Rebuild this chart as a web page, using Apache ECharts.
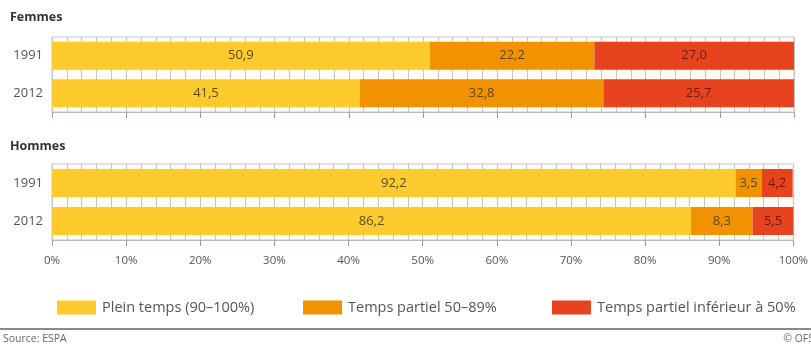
<!DOCTYPE html>
<html>
<head>
<meta charset="utf-8">
<script src="https://cdn.jsdelivr.net/npm/echarts@6/dist/echarts.min.js"></script>
<style>
html,body{margin:0;padding:0;background:#fff;}
#chart{width:811px;height:348px;}
</style>
</head>
<body>
<div id="chart"></div>
<script>
// Data
const years = ['1991', '2012'];
const seriesNames = ['Plein temps (90–100%)', 'Temps partiel 50–89%', 'Temps partiel inférieur à 50%'];
const femmesPlein = [50.9, 41.5];
const femmesPartiel = [22.2, 32.8];
const femmesInf = [27.0, 25.7];
const hommesPlein = [92.2, 86.2];
const hommesPartiel = [3.5, 8.3];
const hommesInf = [4.2, 5.5];
const panelTitles = ['Femmes', 'Hommes'];
const sourceText = 'Source: ESPA';
const copyrightText = '© OFS';

const colors = ['#FDCB2E', '#F39200', '#E7431E'];
const fmt = v => v.toFixed(1).replace('.', ',');

const chart = echarts.init(document.getElementById('chart'), null, {renderer: 'canvas'});

const grids = [
  {left: 52, right: 17, top: 37, height: 75, show: true, borderColor: '#c4c4d4', borderWidth: 1, backgroundColor: '#fffdf2'},
  {left: 52, right: 17, top: 164, height: 76, show: true, borderColor: '#c4c4d4', borderWidth: 1, backgroundColor: '#fffdf2'}
];

function xAxis(idx, showLabels) {
  return {
    type: 'value', gridIndex: idx, min: 0, max: 100, interval: 10,
    axisLine: {show: true, lineStyle: {color: '#b8b8cc'}},
    axisTick: {show: true, length: 6, lineStyle: {color: '#9a9aaa'}},
    minorTick: {show: false},
    splitLine: {show: true, lineStyle: {color: '#c4c4d0', width: 1}},
    minorSplitLine: {show: true, lineStyle: {color: '#c4c4d0', width: 1}},
    axisLabel: {show: showLabels, formatter: '{value}%', fontFamily: 'Open Sans', fontSize: 11.5, color: '#555', margin: 15}
  };
}
function yAxis(idx) {
  return {
    type: 'category', gridIndex: idx, data: years, inverse: true,
    axisLine: {show: false}, axisTick: {show: false},
    axisLabel: {fontFamily: 'Open Sans', fontSize: 13, color: '#555', margin: 9}
  };
}

const femmes = [femmesPlein, femmesPartiel, femmesInf];
const hommes = [hommesPlein, hommesPartiel, hommesInf];
const series = [];
[femmes, hommes].forEach((panel, p) => {
  panel.forEach((vals, i) => {
    series.push({
      name: seriesNames[i], type: 'bar', stack: 'p' + p,
      xAxisIndex: p, yAxisIndex: p, barWidth: 28,
      itemStyle: {color: colors[i]},
      label: {show: true, position: 'inside', formatter: d => fmt(d.value),
        fontFamily: 'Open Sans', fontSize: 13, color: i === 2 ? '#6b1a08' : '#5a4a10'},
      data: vals,
      z: 3
    });
  });
});

const legendLefts = [52, 298, 547];
const legends = seriesNames.map((n, i) => ({
  data: [n], left: legendLefts[i], top: 295, itemWidth: 39, itemHeight: 14, itemGap: 0,
  icon: 'rect', selectedMode: false,
  textStyle: {fontFamily: 'Open Sans', fontSize: 14.5, color: '#555', padding: [0, 0, 0, 1]}
}));

chart.setOption({
  animation: false,
  backgroundColor: '#fff',
  grid: grids,
  xAxis: [xAxis(0, false), xAxis(1, true)],
  yAxis: [yAxis(0), yAxis(1)],
  legend: legends,
  series: series,
  graphic: [
    {type: 'text', left: 10, top: 11, style: {text: panelTitles[0], font: 'bold 12.5px "Open Sans"', fill: '#333'}},
    {type: 'text', left: 10, top: 140, style: {text: panelTitles[1], font: 'bold 12.5px "Open Sans"', fill: '#333'}},
    {type: 'rect', shape: {x: 0, y: 328, width: 811, height: 2}, style: {fill: '#8a8a8a'}},
    {type: 'text', left: 3, top: 334, style: {text: sourceText, font: '10.5px "Open Sans"', fill: '#666'}},
    {type: 'text', right: -3, top: 334, style: {text: copyrightText, font: '10.5px "Open Sans"', fill: '#666'}}
  ]
});
</script>
</body>
</html>
